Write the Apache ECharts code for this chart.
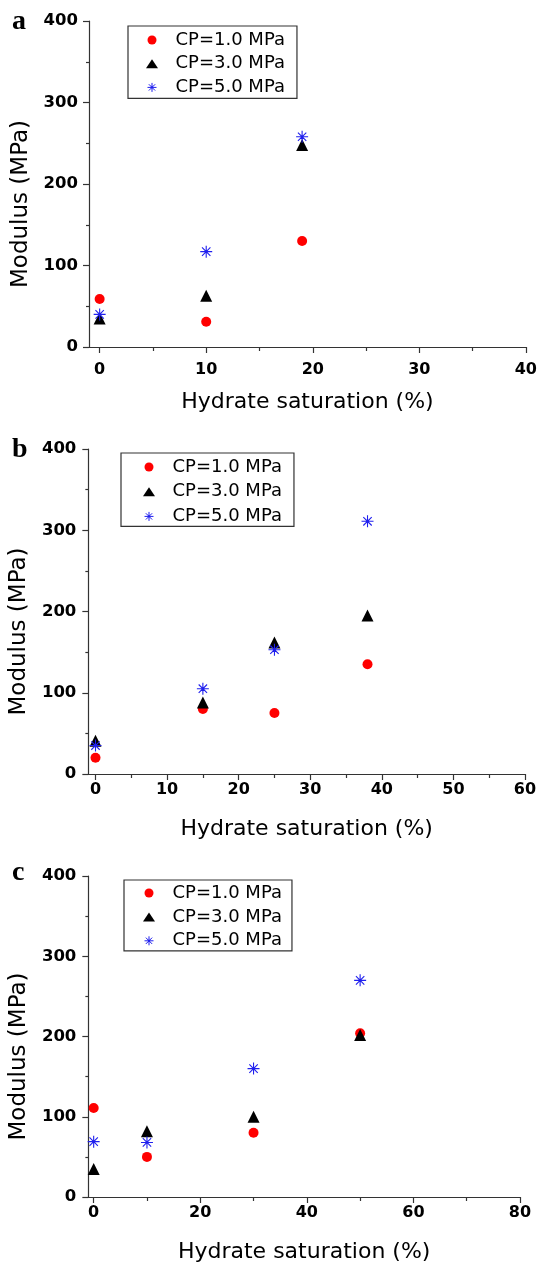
<!DOCTYPE html>
<html>
<head>
<meta charset="utf-8">
<script src="https://cdn.jsdelivr.net/npm/echarts@6/dist/echarts.min.js"></script>
<style>
html,body{margin:0;padding:0;background:#fff;}
#chart{width:540px;height:1266px;}
</style>
</head>
<body>
<div id="chart"></div>
<script>
// ---------- data ----------
const seriesNames = ['CP=1.0 MPa', 'CP=3.0 MPa', 'CP=5.0 MPa'];

// panel a
const xA = [0, 10, 19];
const redA = [59, 31, 130];
const blackA = [35, 63, 248];
const blueA = [40, 117, 258];

// panel b
const xB = [0, 15, 25, 38];
const redB = [20, 80, 75, 135];
const blackB = [41, 88, 162, 195];
const blueB = [35, 105, 153, 311];

// panel c
const xC = [0, 10, 30, 50];
const redC = [111, 50, 80, 204];
const blackC = [35, 82, 100, 202];
const blueC = [69, 68, 160, 270];

// axes
const xMaxA = 40, xMaxB = 60, xMaxC = 80;
const xTicksA = [0, 10, 20, 30, 40];
const xMinorA = [5, 15, 25, 35];
const xTicksB = [0, 10, 20, 30, 40, 50, 60];
const xMinorB = [5, 15, 25, 35, 45, 55];
const xTicksC = [0, 20, 40, 60, 80];
const xMinorC = [10, 30, 50, 70];
const yTicks = [0, 100, 200, 300, 400];
const panelLetters = ['a', 'b', 'c'];
const xTitle = 'Hydrate saturation (%)';
const yTitle = 'Modulus (MPa)';

// ---------- styling ----------
const AX = '#333';
const FONT = 'DejaVu Sans';
const RED = '#ff0000', BLACK = '#000000', BLUE = '#1f1fee';
const STAR = 'path://M0,5L10,5M5,0L5,10M1.5,1.5L8.5,8.5M1.5,8.5L8.5,1.5M4.4,4.4L5.6,4.4L5.6,5.6L4.4,5.6Z';

const grids = [
  {left: 89, top: 21, width: 440, height: 326},
  {left: 87, top: 449, width: 438, height: 325},
  {left: 87, top: 876, width: 433, height: 321}
];
const xMaxes = [xMaxA, xMaxB, xMaxC];
const xTicks = [xTicksA, xTicksB, xTicksC];
const xMinors = [xMinorA, xMinorB, xMinorC];
const xLabelMargin = [15, 8, 8];
const yLabelMargin = [11, 12, 12];

const xAxes = [], yAxes = [];
grids.forEach((g, i) => {
  xAxes.push({
    gridIndex: i, type: 'value', min: -1, max: xMaxes[i], position: 'bottom',
    axisLine: {show: true, onZero: false, lineStyle: {color: AX, width: 1.2}},
    axisTick: {show: true, customValues: xTicks[i], length: 6, lineStyle: {color: AX, width: 1.2}},
    axisLabel: {customValues: xTicks[i], margin: xLabelMargin[i], color: '#000', fontFamily: FONT, fontWeight: 'bold', fontSize: 16},
    splitLine: {show: false},
    name: xTitle, nameLocation: 'middle', nameGap: 44,
    nameTextStyle: {color: '#000', fontFamily: FONT, fontSize: 22}
  });
  xAxes.push({
    gridIndex: i, type: 'value', min: -1, max: xMaxes[i], position: 'bottom', offset: 0,
    axisLine: {show: false},
    axisTick: {show: true, customValues: xMinors[i], length: 4, lineStyle: {color: AX, width: 1.2}},
    axisLabel: {show: false},
    splitLine: {show: false}
  });
  yAxes.push({
    gridIndex: i, type: 'value', min: 0, max: 400, interval: 100,
    axisLine: {show: true, onZero: false, lineStyle: {color: AX, width: 1.2}},
    axisTick: {show: true, customValues: yTicks, length: 6, lineStyle: {color: AX, width: 1.2}},
    minorTick: {show: true, splitNumber: 2, length: 3, lineStyle: {color: AX, width: 1.2}},
    axisLabel: {customValues: yTicks, margin: yLabelMargin[i], color: '#000', fontFamily: FONT, fontWeight: 'bold', fontSize: 16.5},
    splitLine: {show: false},
    name: yTitle, nameLocation: 'middle', nameGap: 54, nameRotate: 90,
    nameTextStyle: {color: '#000', fontFamily: FONT, fontSize: 23, padding: [0, 40, 0, 0]}
  });
});

const panelData = [
  [xA, redA, blackA, blueA],
  [xB, redB, blackB, blueB],
  [xC, redC, blackC, blueC]
];
const styles = [
  {symbol: 'circle', symbolSize: 10, itemStyle: {color: RED, opacity: 1}},
  {symbol: 'triangle', symbolSize: 12, itemStyle: {color: BLACK, opacity: 1}},
  {symbol: STAR, symbolSize: 12, itemStyle: {color: BLUE, borderColor: BLUE, borderWidth: 1.1, opacity: 1}}
];

const series = [];
panelData.forEach((pd, i) => {
  const xs = pd[0];
  for (let s = 0; s < 3; s++) {
    const ys = pd[s + 1];
    series.push(Object.assign({
      type: 'scatter',
      name: seriesNames[s],
      xAxisIndex: i * 2,
      yAxisIndex: i,
      symbolKeepAspect: true,
      data: xs.map((x, k) => [x, ys[k]]),
      z: 2 + s,
      emphasis: {disabled: true}
    }, styles[s]));
  }
});

const legendPos = [
  {left: 128, top: 26, padding: [5, 12, 2, 18]},
  {left: 121, top: 453, padding: [5, 12, 1, 22]},
  {left: 124, top: 880, padding: [4, 10, 1, 19]}
];
const legendGap = [5.7, 6.7, 5.9];
const legends = legendPos.map((p, i) => ({
  orient: 'vertical', left: p.left, top: p.top, padding: p.padding,
  itemWidth: 12, itemHeight: 9, itemGap: legendGap[i],
  symbolKeepAspect: true,
  selectedMode: false,
  borderColor: '#333', borderWidth: 1.2, backgroundColor: '#fff',
  textStyle: {color: '#000', fontFamily: FONT, fontSize: 18, padding: [0, 0, 0, 12.5]},
  data: [
    {name: seriesNames[0], icon: 'circle'},
    {name: seriesNames[1], icon: 'triangle'},
    {name: seriesNames[2], icon: STAR, itemStyle: {color: BLUE, borderColor: BLUE, borderWidth: 1}}
  ]
}));

const letterY = [22, 450, 873];
const graphics = panelLetters.map((t, i) => ({
  type: 'text', x: 12, y: letterY[i],
  style: {text: t, fill: '#000', font: 'bold 28px "Liberation Serif"', verticalAlign: 'middle', align: 'left'}
}));

const chart = echarts.init(document.getElementById('chart'), null, {renderer: 'canvas'});
chart.setOption({
  animation: false,
  backgroundColor: '#fff',
  grid: grids,
  xAxis: xAxes,
  yAxis: yAxes,
  legend: legends,
  series: series,
  graphic: graphics
});
</script>
</body>
</html>
